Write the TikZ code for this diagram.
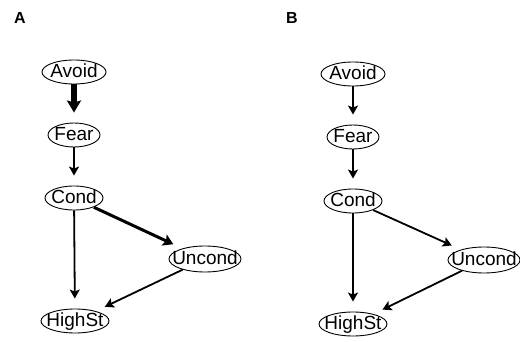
\documentclass[tikz,border=0pt]{standalone}
\usepackage{fontspec}
\setmainfont{Liberation Sans}
\usetikzlibrary{arrows.meta}
\usetikzlibrary{shapes.geometric}

\tikzset{
  var/.style = {ellipse, draw, line width=0.9pt, inner xsep=-20pt, inner ysep=-4pt,
                minimum height=24pt, text height=13.5pt, text depth=3pt,
                font=\fontsize{19}{21}\selectfont},
  edge/.style = {line width=1.8pt, shorten >=10pt,
                 -{Stealth[length=9pt, width=10pt, inset=2pt]}},
  mededge/.style = {edge, line width=3pt, -{Stealth[length=10pt, width=12pt, inset=2pt]}},
  bigedge/.style = {edge, line width=5.5pt, -{Stealth[length=12pt, width=14pt, inset=2pt]}},
  panel/.style = {font=\fontsize{16}{18}\selectfont\bfseries}
}

\begin{document}
\begin{tikzpicture}[x=1pt, y=-1pt]
            \useasboundingbox (0,0) rectangle (520,342);

            % Panel A
            \node[panel] (labA) at (20,18) {A};
            \node[var, minimum width=64pt] (avoidA) at (74,72) {Avoid};
            \node[var, minimum width=52pt] (fearA) at (74,135) {Fear};
            \node[var, minimum width=58pt] (condA) at (74,198) {Cond};
            \node[var, minimum width=72pt, minimum height=26pt] (uncondA) at (205,259) {Uncond};
            \node[var, minimum width=68pt] (highA) at (75,321) {HighSt};
            \draw[bigedge] (avoidA) -- (fearA);
            \draw[edge] (fearA) -- (condA);
            \draw[mededge] (condA) -- (uncondA);
            \draw[edge] (condA) -- (highA);
            \draw[edge] (uncondA) -- (highA);

            % Panel B
            \node[panel] (labB) at (292,18) {B};
            \node[var, minimum width=64pt] (avoidB) at (353,74) {Avoid};
            \node[var, minimum width=52pt] (fearB) at (353,137) {Fear};
            \node[var, minimum width=58pt] (condB) at (353,201) {Cond};
            \node[var, minimum width=72pt, minimum height=26pt] (uncondB) at (484,260) {Uncond};
            \node[var, minimum width=68pt] (highB) at (353,324) {HighSt};
            \draw[edge] (avoidB) -- (fearB);
            \draw[edge] (fearB) -- (condB);
            \draw[edge] (condB) -- (uncondB);
            \draw[edge] (condB) -- (highB);
            \draw[edge] (uncondB) -- (highB);
        \end{tikzpicture}
\end{document}
